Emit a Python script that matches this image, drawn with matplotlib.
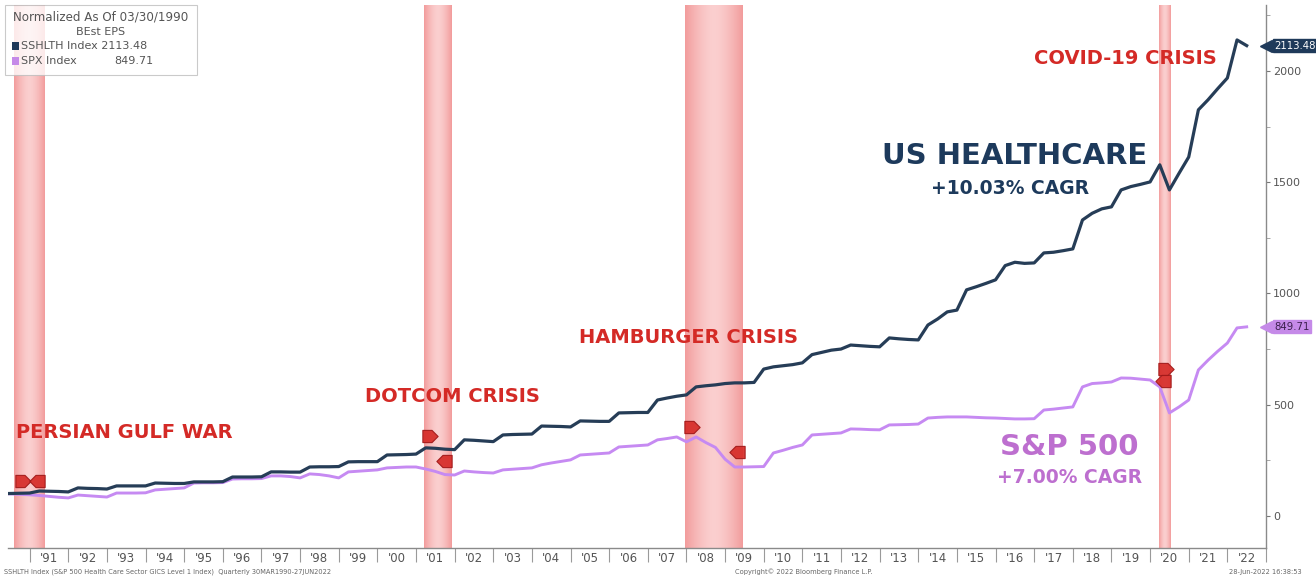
import matplotlib
matplotlib.use("Agg")
import matplotlib.pyplot as plt
from matplotlib.path import Path
from matplotlib.patches import Rectangle
from matplotlib.colors import to_rgb
import numpy as np

# ---------------- data (quarterly, normalized to 100 at 03/30/1990) ----------------
first_quarter = 1990.25  # Q1 1990 (quarter-end as fractional year)
sshlth = [
    100, 101, 102, 103,      # 1990
    112, 111, 110, 108,      # 1991
    126, 124, 123, 121,      # 1992
    135, 135, 135, 135,      # 1993
    148, 147, 146, 146,      # 1994
    153, 153, 153, 154,      # 1995
    175, 175, 175, 176,      # 1996
    198, 198, 197, 197,      # 1997
    220, 221, 221, 222,      # 1998
    243, 244, 244, 244,      # 1999
    274, 275, 276, 278,      # 2000
    306, 304, 300, 298,      # 2001
    342, 340, 337, 334,      # 2002
    364, 366, 367, 368,      # 2003
    404, 403, 402, 400,      # 2004
    427, 426, 425, 425,      # 2005
    463, 464, 465, 465,      # 2006
    521, 530, 538, 544,      # 2007
    580, 585, 589, 595,      # 2008
    598, 598, 600, 660,      # 2009
    670, 675, 680, 688,      # 2010
    725, 735, 745, 750,      # 2011
    768, 765, 762, 760,      # 2012
    800, 796, 793, 791,      # 2013
    858, 885, 917, 925,      # 2014
    1016, 1030, 1045, 1061,  # 2015
    1125, 1140, 1135, 1137,  # 2016
    1182, 1185, 1192, 1200,  # 2017
    1330, 1360, 1380, 1389,  # 2018
    1465, 1480, 1490, 1501,  # 2019
    1578, 1465, 1540, 1613,  # 2020
    1825, 1870, 1920, 1968,  # 2021
    2139, 2113.48,           # 2022
]
spx = [
    100, 99, 97, 95,         # 1990
    92, 88, 84, 81,          # 1991
    94, 91, 88, 85,          # 1992
    103, 103, 103, 104,      # 1993
    117, 120, 123, 126,      # 1994
    148, 149, 149, 150,      # 1995
    166, 167, 167, 168,      # 1996
    180, 180, 177, 171,      # 1997
    189, 186, 180, 171,      # 1998
    198, 201, 204, 207,      # 1999
    216, 218, 220, 220,      # 2000
    211, 200, 186, 184,      # 2001
    202, 198, 195, 193,      # 2002
    207, 210, 213, 216,      # 2003
    230, 238, 245, 252,      # 2004
    274, 277, 280, 283,      # 2005
    310, 313, 316, 319,      # 2006
    342, 348, 355, 333,      # 2007
    355, 330, 308, 255,      # 2008
    220, 220, 221, 222,      # 2009
    283, 295, 308, 319,      # 2010
    364, 367, 370, 373,      # 2011
    391, 390, 388, 387,      # 2012
    409, 410, 411, 413,      # 2013
    440, 443, 445, 445,      # 2014
    445, 443, 441, 440,      # 2015
    438, 436, 436, 437,      # 2016
    476, 480, 485, 490,      # 2017
    580, 595, 598, 602,      # 2018
    620, 619, 615, 611,      # 2019
    580, 463, 490, 521,      # 2020
    656, 700, 740, 777,      # 2021
    845, 849.71,             # 2022
]
year_labels = ["'%02d" % (y % 100) for y in range(1991, 2023)]
years = list(range(1991, 2023))

crisis_names = ["PERSIAN GULF WAR", "DOTCOM CRISIS", "HAMBURGER CRISIS", "COVID-19 CRISIS"]
crisis_bands = [(1990.60, 1991.38), (2001.20, 2001.92), (2007.97, 2009.47), (2020.22, 2020.51)]
# event markers: (time, value, direction)
event_marks = [
    (1990.82, 157, ">"), (1991.20, 157, "<"),
    (2001.37, 360, ">"), (2001.73, 247, "<"),
    (2008.15, 400, ">"), (2009.32, 288, "<"),
    (2020.41, 660, ">"), (2020.33, 605, "<"),
]

# ---------------- styling ----------------
NAVY = "#263d57"
NAVY_TXT = "#1d3a5c"
PURPLE = "#c68af2"
PURPLE_TXT = "#bd6fcf"
RED = "#d42a26"
GRAY = "#555555"

W, H = 1316, 576
fig = plt.figure(figsize=(W / 100, H / 100), dpi=100)
ax = fig.add_axes([8 / W, 1 - 548 / H, (1266 - 8) / W, (548 - 5) / H])

t = first_quarter + 0.25 * np.arange(len(sshlth))
YLIM = (-144, 2296)

# recession bands with a smooth horizontal gradient (darker edges, lighter centre)
edge_c = np.array(to_rgb("#f29c9c"))
mid_c = np.array(to_rgb("#fbcfcf"))
u = np.linspace(0, 1, 64)
wgt = np.abs(2 * u - 1) ** 1.6
grad = (1 - wgt)[:, None] * mid_c + wgt[:, None] * edge_c
grad_img = grad[None, :, :]
for (a, b) in crisis_bands:
    ax.imshow(grad_img, extent=(a, b, YLIM[0], YLIM[1]), aspect="auto",
              interpolation="bilinear", zorder=0.5)

ax.plot(t, spx, color=PURPLE, lw=2.1, zorder=3, solid_joinstyle="round")
ax.plot(t, sshlth, color=NAVY, lw=2.3, zorder=4, solid_joinstyle="round")

# event markers
right_pent = Path([(-1, -0.8), (0.2, -0.8), (1, 0), (0.2, 0.8), (-1, 0.8), (-1, -0.8)],
                  [Path.MOVETO] + [Path.LINETO] * 4 + [Path.CLOSEPOLY])
left_pent = Path([(1, -0.8), (-0.2, -0.8), (-1, 0), (-0.2, 0.8), (1, 0.8), (1, -0.8)],
                 [Path.MOVETO] + [Path.LINETO] * 4 + [Path.CLOSEPOLY])
for (tm, v, d) in event_marks:
    ax.plot([tm], [v], marker=right_pent if d == ">" else left_pent, ms=11,
            mfc="#d62c28", mec="#a01818", mew=0.8, alpha=0.92, zorder=6, ls="none")

# axes limits
ax.set_xlim(1990.44, 2023.0)
ax.set_ylim(*YLIM)

for s in ["top", "left"]:
    ax.spines[s].set_visible(False)
ax.spines["bottom"].set_color("#8a8a8a")
ax.spines["right"].set_color("#8a8a8a")
ax.spines["bottom"].set_linewidth(1.0)
ax.spines["right"].set_linewidth(1.0)

# x axis: separators at year starts, labels at year centres
ax.set_xticks(years + [2023])
ax.set_xticklabels([])
ax.tick_params(axis="x", which="major", length=10, width=0.8, color="#9a9a9a", direction="out")
ax.set_xticks([y + 0.5 for y in years], minor=True)
ax.set_xticklabels(year_labels, minor=True, fontsize=8.5, color=GRAY)
ax.tick_params(axis="x", which="minor", length=0, pad=3)

# y axis on right
ax.yaxis.tick_right()
ax.set_yticks([0, 500, 1000, 1500, 2000])
ax.set_yticklabels(["0", "500", "1000", "1500", "2000"], fontsize=8, color=GRAY)
ax.set_yticks(np.arange(250, 2300, 500), minor=True)
ax.tick_params(axis="y", which="major", length=3, width=0.8, color="#777777", pad=2)
ax.tick_params(axis="y", which="minor", length=3, width=0.6, color="#999999")

# crisis annotations
ax.text(1990.65, 373, crisis_names[0], color=RED, fontsize=14, fontweight="bold", va="center", ha="left", zorder=7)
ax.text(1999.69, 535, crisis_names[1], color=RED, fontsize=14, fontweight="bold", va="center", ha="left", zorder=7)
ax.text(2005.23, 804, crisis_names[2], color=RED, fontsize=14, fontweight="bold", va="center", ha="left", zorder=7)
ax.text(2017.0, 2054, crisis_names[3], color=RED, fontsize=14, fontweight="bold", va="center", ha="left", zorder=7)

# series labels
ax.text(2016.5, 1618, "US HEALTHCARE", color=NAVY_TXT, fontsize=21, fontweight="bold", ha="center", va="center", zorder=7)
ax.text(2016.38, 1470, "+10.03% CAGR", color=NAVY_TXT, fontsize=13.5, fontweight="bold", ha="center", va="center", zorder=7)
ax.text(2017.92, 310, "S&P 500", color=PURPLE_TXT, fontsize=21, fontweight="bold", ha="center", va="center", zorder=7)
ax.text(2017.92, 171, "+7.00% CAGR", color=PURPLE_TXT, fontsize=13.5, fontweight="bold", ha="center", va="center", zorder=7)

# right-hand value tags
for val, fc, tc in [(sshlth[-1], "#1f3a5a", "white"), (spx[-1], "#c58ae8", "#3b1f4d")]:
    ax.annotate("%.2f" % val, xy=(1.0, val), xycoords=("axes fraction", "data"),
                xytext=(6, 0), textcoords="offset points", fontsize=7.3, color=tc,
                va="center", ha="left", annotation_clip=False, zorder=8,
                bbox=dict(boxstyle="square,pad=0.15", fc=fc, ec=fc))
    ax.plot([1.0], [val], transform=ax.get_yaxis_transform(), marker="<", ms=8,
            color=fc, clip_on=False, zorder=8)

# legend box (top-left)
fig.add_artist(Rectangle((5 / W, 1 - 75 / H), 192 / W, 70 / H, transform=fig.transFigure,
                         fc="white", ec="#bbbbbb", lw=0.8, alpha=0.78, zorder=9))
fig.text(101 / W, 1 - 17 / H, "Normalized As Of 03/30/1990", fontsize=8.6, color=GRAY, ha="center", va="center", zorder=10)
fig.text(101 / W, 1 - 32 / H, "BEst EPS", fontsize=8, color=GRAY, ha="center", va="center", zorder=10)
fig.add_artist(Rectangle((12 / W, 1 - 50 / H), 7 / W, 8 / H, transform=fig.transFigure,
                         fc="#1f3a5a", ec="none", zorder=10))
fig.add_artist(Rectangle((12 / W, 1 - 65 / H), 7 / W, 8 / H, transform=fig.transFigure,
                         fc="#c58ae8", ec="none", zorder=10))
fig.text(21 / W, 1 - 46 / H, "SSHLTH Index 2113.48", fontsize=8, color=GRAY, ha="left", va="center", zorder=10)
fig.text(21 / W, 1 - 61 / H, "SPX Index", fontsize=8, color=GRAY, ha="left", va="center", zorder=10)
fig.text(153 / W, 1 - 61 / H, "849.71", fontsize=8, color=GRAY, ha="right", va="center", zorder=10)

# footer
fig.text(4 / W, 1 - 572 / H, "SSHLTH Index (S&P 500 Health Care Sector GICS Level 1 Index)  Quarterly 30MAR1990-27JUN2022",
         fontsize=4.8, color="#666666", ha="left", va="center")
fig.text(735 / W, 1 - 572 / H, "Copyright\u00a9 2022 Bloomberg Finance L.P.", fontsize=4.8, color="#666666", ha="left", va="center")
fig.text(1229 / W, 1 - 572 / H, "28-Jun-2022 16:38:53", fontsize=4.8, color="#666666", ha="left", va="center")

fig.savefig("out.png", dpi=100)
